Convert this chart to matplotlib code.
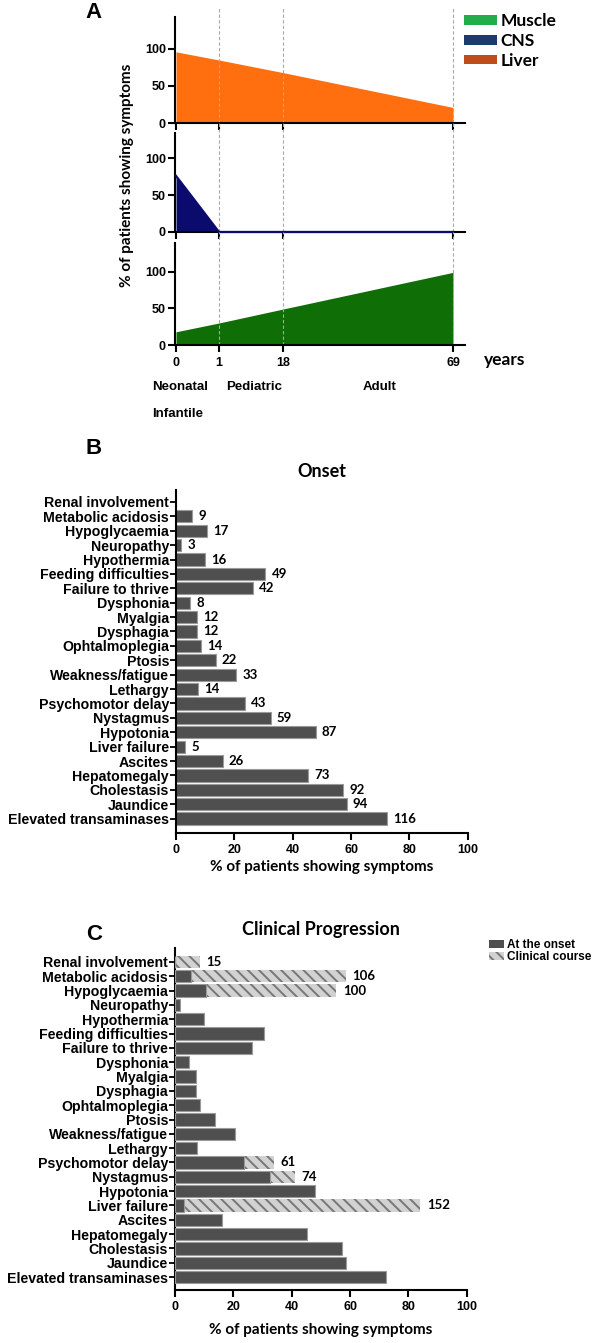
import matplotlib
matplotlib.use("Agg")
import matplotlib.pyplot as plt
from matplotlib.patches import Patch
import numpy as np

# ---------------- data ----------------
ages = [0, 1, 18, 69]
age_labels = ["0", "1", "18", "69"]
liver = [96, 85, 68, 21]
cns = [76, 0, 0, 0]
muscle = [18, 30, 49, 99]

symptoms = ["Renal involvement", "Metabolic acidosis", "Hypoglycaemia", "Neuropathy",
            "Hypothermia", "Feeding difficulties", "Failure to thrive", "Dysphonia",
            "Myalgia", "Dysphagia", "Ophtalmoplegia", "Ptosis", "Weakness/fatigue",
            "Lethargy", "Psychomotor delay", "Nystagmus", "Hypotonia", "Liver failure",
            "Ascites", "Hepatomegaly", "Cholestasis", "Jaundice", "Elevated transaminases"]
onset_pct = [0, 5.5, 10.5, 1.7, 10.0, 30.6, 26.3, 4.9, 7.3, 7.3, 8.6, 13.6, 20.6,
             7.4, 23.5, 32.4, 47.9, 3.0, 16.0, 45.4, 57.4, 58.5, 72.3]
onset_n = [None, 9, 17, 3, 16, 49, 42, 8, 12, 12, 14, 22, 33, 14, 43, 59, 87, 5,
           26, 73, 92, 94, 116]
course_pct = [8.4, 58.5, 55.2, None, None, None, None, None, None, None, None, None,
              None, None, 33.8, 41.0, None, 84.0, None, None, None, None, None]
course_n = [15, 106, 100, None, None, None, None, None, None, None, None, None,
            None, None, 61, 74, None, 152, None, None, None, None, None]

# ---------------- style ----------------
W, H = 600, 1343
ARIAL = ["Liberation Sans", "DejaVu Sans"]
CAL = ["Lato", "DejaVu Sans"]
ORANGE, NAVY, GREEN = "#ff6e0f", "#0b0b6e", "#0f6e05"
LEG_COLORS = {"Muscle": "#22ad4a", "CNS": "#1c3a6b", "Liver": "#bf4d1c"}
DARK, DARK_EDGE = "#4f4f4f", "#9a9a9a"
LIGHT, HATCH_C = "#d2d2d2", "#777777"
plt.rcParams["hatch.linewidth"] = 1.4

fig = plt.figure(figsize=(W / 100, H / 100), dpi=100)


def rect(x0, y0, x1, y1):
    return [x0 / W, 1 - y1 / H, (x1 - x0) / W, (y1 - y0) / H]


# piecewise age axis (layout knots in px from axes left)
KN_YEARS = np.array([0.0, 1.0, 18.0, 69.0])
KN_POS = np.array([1.0, 44.0, 108.0, 278.0])


def _pw(x, xs, ys):
    x = np.asarray(x, float)
    y = np.interp(x, xs, ys)
    s_hi = (ys[-1] - ys[-2]) / (xs[-1] - xs[-2])
    s_lo = (ys[1] - ys[0]) / (xs[1] - xs[0])
    y = np.where(x > xs[-1], ys[-1] + (x - xs[-1]) * s_hi, y)
    y = np.where(x < xs[0], ys[0] + (x - xs[0]) * s_lo, y)
    return y


def fwd(x):
    return _pw(x, KN_YEARS, KN_POS)


def inv(p):
    return _pw(p, KN_POS, KN_YEARS)


# ---------------- panel A ----------------
specs = [(17, 123, 143, liver, ORANGE, 1 + 9 / 106),
         (133, 232, 134, cns, NAVY, 1 + 10 / 99),
         (243, 345, 139, muscle, GREEN, 1 + 11 / 102)]
axesA = []
for k, (top, bot, ymax, vals, col, ext) in enumerate(specs):
    ax = fig.add_axes(rect(175, top, 465, bot))
    ax.set_xscale("function", functions=(fwd, inv))
    ax.set_xlim(float(inv(0.0)), float(inv(290.0)))
    ax.set_ylim(0, ymax)
    ax.fill_between(ages, vals, 0, color=col, lw=0, zorder=1)
    if col == NAVY:
        ax.plot(ages, vals, color=NAVY, lw=1.6, zorder=3, clip_on=False)
    for a in ages[1:]:
        ax.axvline(a, ymin=0, ymax=ext, color="#a8a8a8", lw=0.8,
                   ls=(0, (3, 2)), clip_on=False, zorder=2)
    for s in ["top", "right"]:
        ax.spines[s].set_visible(False)
    for s in ["left", "bottom"]:
        ax.spines[s].set_linewidth(1.5)
    ax.set_xticks(ages)
    ax.set_xticks([], minor=True)
    ax.set_yticks([0, 50, 100])
    ax.tick_params(axis="both", length=5, width=1.5, pad=1.5)
    for lab in ax.get_yticklabels():
        lab.set_fontfamily(ARIAL)
        lab.set_fontweight("bold")
        lab.set_fontsize(9)
    if k < 2:
        ax.set_xticklabels([])
    else:
        ax.set_xticklabels(age_labels, fontfamily=ARIAL, fontweight="bold", fontsize=9)
        ax.tick_params(axis="x", pad=4)
    axesA.append(ax)

axb = axesA[2]
axb.text(1.066, -0.15, "years", transform=axb.transAxes, ha="left", va="center",
         fontfamily=CAL, fontweight="bold", fontsize=12.5)
for txt, xa, ya, ha in [("Neonatal", -0.079, -0.41, "left"),
                        ("Infantile", -0.079, -0.676, "left"),
                        ("Pediatric", 0.176, -0.41, "left"),
                        ("Adult", 0.707, -0.41, "center")]:
    axb.text(xa, ya, txt, transform=axb.transAxes, ha=ha, va="center",
             fontfamily=ARIAL, fontweight="bold", fontsize=9.5)

fig.text(127 / W, 1 - 175 / H, "% of patients showing symptoms", rotation=90,
         ha="center", va="center", fontfamily=CAL, fontweight="bold", fontsize=11)
fig.text(94 / W, 1 - 12 / H, "A", ha="center", va="center", fontfamily=ARIAL,
         fontweight="bold", fontsize=16)

leg_handles = [Patch(facecolor=LEG_COLORS[n], edgecolor="none") for n in ["Muscle", "CNS", "Liver"]]
fig.legend(leg_handles, ["Muscle", "CNS", "Liver"], loc="upper left",
           bbox_to_anchor=(464 / W, 1 - 13 / H), frameon=False,
           prop={"family": CAL, "weight": "bold", "size": 12.5},
           handlelength=1.9, handleheight=0.5, handletextpad=0.2,
           labelspacing=0.22, borderpad=0, borderaxespad=0)


# ---------------- panels B & C ----------------
def bar_axes(box, ylim):
    ax = fig.add_axes(rect(*box))
    ax.set_xlim(0, 100)
    ax.set_ylim(*ylim)
    for s in ["top", "right"]:
        ax.spines[s].set_visible(False)
    for s in ["left", "bottom"]:
        ax.spines[s].set_linewidth(1.5)
    y = np.arange(len(symptoms))
    ax.set_yticks(y)
    ax.set_yticklabels(symptoms, fontfamily=ARIAL, fontweight="bold", fontsize=10.2)
    ax.set_xticks([0, 20, 40, 60, 80, 100])
    ax.set_xticklabels(["0", "20", "40", "60", "80", "100"], fontfamily=ARIAL,
                       fontweight="bold", fontsize=9)
    ax.tick_params(axis="y", length=4, width=1.3, pad=1)
    ax.tick_params(axis="x", length=5, width=1.5, pad=3)
    return ax


ypos = np.arange(len(symptoms))

# B
axB = bar_axes((176, 490, 467.7, 833), (23.0, -0.83))
axB.barh(ypos, onset_pct, height=0.85, color=DARK, edgecolor=DARK_EDGE, lw=0.8, zorder=2)
for i, (v, n) in enumerate(zip(onset_pct, onset_n)):
    if n is not None:
        axB.annotate(str(n), (v, i), xytext=(4.5, 0), textcoords="offset points",
                     ha="left", va="center", fontfamily=CAL, fontweight="bold", fontsize=9.5)
axB.text(0.5, 1 + 18 / 343, "Onset", transform=axB.transAxes, ha="center", va="center",
         fontfamily=CAL, fontweight="bold", fontsize=13)
axB.text(0.5, -34 / 343, "% of patients showing symptoms", transform=axB.transAxes,
         ha="center", va="center", fontfamily=CAL, fontweight="bold", fontsize=11)
fig.text(94 / W, 1 - 449 / H, "B", ha="center", va="center", fontfamily=ARIAL,
         fontweight="bold", fontsize=16)

# C
axC = bar_axes((175, 948, 466.7, 1290), (22.9, -0.97))
cy = [i for i, v in enumerate(course_pct) if v is not None]
cv = [course_pct[i] for i in cy]
axC.barh(cy, cv, height=0.85, color=LIGHT, edgecolor=HATCH_C, hatch="\\\\\\", lw=0,
         zorder=2)
axC.barh(ypos, onset_pct, height=0.85, color=DARK, edgecolor=DARK_EDGE, lw=0.8, zorder=3)
for i in cy:
    axC.annotate(str(course_n[i]), (course_pct[i], i), xytext=(5, 0), textcoords="offset points",
                 ha="left", va="center", fontfamily=CAL, fontweight="bold", fontsize=9.5)
axC.text(0.5, 1 + 18 / 342, "Clinical Progression", transform=axC.transAxes, ha="center",
         va="center", fontfamily=CAL, fontweight="bold", fontsize=13)
axC.text(0.5, -40 / 342, "% of patients showing symptoms", transform=axC.transAxes,
         ha="center", va="center", fontfamily=CAL, fontweight="bold", fontsize=11)
fig.text(94 / W, 1 - 934 / H, "C", ha="center", va="center", fontfamily=ARIAL,
         fontweight="bold", fontsize=16)

legC = [Patch(facecolor=DARK, edgecolor="none"),
        Patch(facecolor=LIGHT, edgecolor=HATCH_C, hatch="\\\\\\", lw=0)]
fig.legend(legC, ["At the onset", "Clinical course"], loc="upper left",
           bbox_to_anchor=(489 / W, 1 - 939 / H), frameon=False,
           prop={"family": ARIAL, "weight": "bold", "size": 8.5},
           handlelength=1.3, handleheight=0.7, handletextpad=0.2,
           labelspacing=0.0, borderpad=0, borderaxespad=0)

fig.savefig("out.png", dpi=100)
